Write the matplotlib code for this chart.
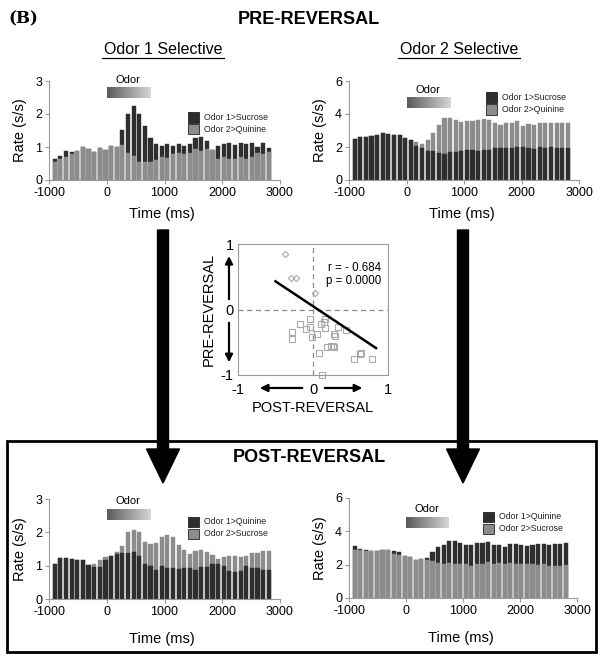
import numpy as np
import matplotlib.pyplot as plt
from matplotlib.patches import Rectangle, Polygon
from matplotlib.colors import LinearSegmentedColormap

plt.rcParams['font.family'] = ['Liberation Sans', 'DejaVu Sans']
plt.rcParams['axes.unicode_minus'] = False

# ---- data ----
# bin centres (ms), 39 bins
bins = np.arange(39) * 97.5 - 900

# PRE-REVERSAL, Odor 1 selective
pre1_odor1_sucrose = [0.63, 0.73, 0.89, 0.84, 0.89, 0.99, 0.93, 0.86, 0.96, 0.92, 1.03, 0.99, 1.51,
                      2.0, 2.25, 2.0, 1.65, 1.28, 1.1, 1.02, 1.08, 1.03, 1.1, 1.03, 1.1, 1.28, 1.3,
                      1.18, 0.92, 1.03, 1.1, 1.12, 1.05, 1.13, 1.1, 1.13, 0.99, 1.13, 0.96]
pre1_odor2_quinine = [0.55, 0.65, 0.7, 0.78, 0.89, 0.99, 0.93, 0.86, 0.96, 0.92, 1.03, 0.99, 1.05,
                      0.83, 0.73, 0.55, 0.55, 0.55, 0.6, 0.7, 0.68, 0.8, 0.83, 0.8, 0.83, 0.93, 0.89,
                      0.95, 0.9, 0.65, 0.7, 0.65, 0.65, 0.7, 0.63, 0.7, 0.83, 0.8, 0.86]

# PRE-REVERSAL, Odor 2 selective
pre2_odor1_sucrose = [2.5, 2.62, 2.62, 2.68, 2.7, 2.84, 2.78, 2.7, 2.7, 2.52, 2.42, 2.05, 1.95,
                      1.77, 1.73, 1.65, 1.55, 1.67, 1.71, 1.77, 1.81, 1.81, 1.75, 1.81, 1.81, 1.91,
                      1.95, 1.95, 1.95, 2.01, 1.97, 1.95, 1.89, 2.01, 1.91, 2.01, 1.91, 1.95, 1.91]
pre2_odor2_quinine = [2.5, 2.62, 2.62, 2.68, 2.7, 2.84, 2.78, 2.7, 2.7, 2.52, 2.42, 2.31, 2.2,
                      2.42, 2.86, 3.32, 3.74, 3.74, 3.66, 3.52, 3.56, 3.56, 3.62, 3.68, 3.62, 3.48,
                      3.36, 3.48, 3.48, 3.56, 3.28, 3.42, 3.36, 3.46, 3.48, 3.48, 3.48, 3.48, 3.48]

# POST-REVERSAL, Odor 1 selective
post1_odor1_quinine = [1.05, 1.23, 1.23, 1.19, 1.17, 1.17, 1.01, 0.96, 0.95, 1.18, 1.28, 1.35, 1.38,
                       1.38, 1.41, 1.3, 1.05, 1.0, 0.86, 0.98, 0.93, 0.93, 0.9, 0.93, 0.93, 0.86,
                       0.95, 0.95, 1.06, 1.06, 1.0, 0.83, 0.81, 0.83, 1.0, 0.93, 0.93, 0.86, 0.86]
post1_odor2_sucrose = [1.05, 1.23, 1.23, 1.19, 1.17, 1.17, 1.01, 1.05, 1.17, 1.26, 1.3, 1.41, 1.58,
                       2.0, 2.07, 2.02, 1.71, 1.65, 1.68, 1.86, 1.93, 1.86, 1.62, 1.46, 1.36, 1.45,
                       1.48, 1.4, 1.32, 1.2, 1.26, 1.3, 1.3, 1.26, 1.3, 1.38, 1.38, 1.45, 1.45]

# POST-REVERSAL, Odor 2 selective
post2_odor1_quinine = [3.1, 2.96, 2.88, 2.82, 2.82, 2.86, 2.86, 2.84, 2.74, 2.54, 2.48, 2.28, 2.34,
                       2.4, 2.74, 3.04, 3.16, 3.4, 3.4, 3.3, 3.2, 3.2, 3.3, 3.3, 3.38, 3.18, 3.18,
                       3.04, 3.24, 3.24, 3.2, 3.1, 3.18, 3.24, 3.24, 3.18, 3.24, 3.24, 3.3]
post2_odor2_sucrose = [2.86, 2.86, 2.85, 2.82, 2.82, 2.86, 2.86, 2.66, 2.6, 2.54, 2.48, 2.28, 2.34,
                       2.28, 2.24, 2.1, 2.06, 2.1, 2.06, 2.04, 2.06, 1.94, 2.04, 2.06, 2.14, 2.06,
                       2.1, 2.04, 2.1, 2.04, 2.04, 2.06, 2.04, 2.0, 2.06, 1.94, 1.94, 1.9, 2.0]

odor_on, odor_off = 0, 750

# selectivity index, post (x) vs pre (y)
diam_post = [-0.37, -0.30, -0.23, 0.02]
diam_pre = [0.84, 0.48, 0.48, 0.25]
sq_post = [-0.28, -0.28, -0.18, -0.09, -0.04, -0.04, -0.01, 0.05, 0.08, 0.11, 0.16, 0.16, 0.19,
           0.24, 0.28, 0.28, 0.29, 0.33, 0.44, 0.54, 0.64, 0.79, 0.12, 0.14, 0.63, 0.26]
sq_pre = [-0.34, -0.45, -0.22, -0.30, -0.15, -0.26, -0.42, -0.37, -0.66, -0.22, -0.29, -0.14, -0.57,
          -0.55, -0.58, -0.37, -0.41, -0.26, -0.32, -0.76, -0.67, -0.76, -1.0, -0.19, -0.68, -0.56]
fit_slope, fit_icpt = -0.76, 0.05
fit_range = [-0.5, 0.84]

# ---- figure ----
W, H = 600, 657
fig = plt.figure(figsize=(W / 100, H / 100), dpi=100)

DARK = '#2e2e2e'
LIGHT = '#8c8c8c'
AXC = '#9a9a9a'
odor_cmap = LinearSegmentedColormap.from_list('odor', ['#5a5a5a', '#d6d6d6'])


def px_axes(x0, y0, x1, y1):
    return fig.add_axes([x0 / W, 1 - y1 / H, (x1 - x0) / W, (y1 - y0) / H])


def hist_panel(ax, back, front, back_col, front_col, ymax, labels, key, bar_y, txt_y, xlab_y):
    ax.bar(bins, back, width=72, color=back_col, edgecolor=back_col, lw=0.3)
    ax.bar(bins, front, width=72, color=front_col, edgecolor=front_col, lw=0.3)
    ax.imshow(np.linspace(0, 1, 200)[None, :], cmap=odor_cmap, aspect='auto',
              extent=[odor_on, odor_off, bar_y[0], bar_y[1]], zorder=3)
    ax.text((odor_on + odor_off) / 2, txt_y, 'Odor', ha='center', va='center',
            fontsize=8, clip_on=False)
    ax.set_xlim(-1000, 3000)
    ax.set_ylim(0, ymax)
    ax.set_xticks([-1000, 0, 1000, 2000, 3000])
    ax.set_yticks(np.arange(0, ymax + 1, ymax // 3))
    for s in ['top', 'right']:
        ax.spines[s].set_visible(False)
    for s in ['left', 'bottom']:
        ax.spines[s].set_color(AXC)
        ax.spines[s].set_linewidth(0.8)
    ax.tick_params(length=3, color=AXC, labelsize=9, pad=2)
    ax.set_ylabel('Rate (s/s)', fontsize=10.5)
    ax.yaxis.set_label_coords(-0.095, 0.5)
    ax.set_xlabel('Time (ms)', fontsize=10.5)
    ax.xaxis.set_label_coords(0.49, xlab_y)
    # key
    kx, ky = key
    for i, (lab, col) in enumerate(zip(labels, [DARK, LIGHT])):
        yb = ky - i * 0.12
        ax.add_patch(Rectangle((kx, yb), 0.048, 0.105, transform=ax.transAxes,
                               facecolor=col, edgecolor='#222222', lw=0.6, clip_on=False))
        ax.text(kx + 0.068, yb + 0.052, lab, transform=ax.transAxes, fontsize=6.3,
                va='center', ha='left', color='#222222')


ax1 = px_axes(49, 81, 280, 180)
hist_panel(ax1, pre1_odor1_sucrose, pre1_odor2_quinine, DARK, LIGHT, 3,
           ['Odor 1>Sucrose', 'Odor 2>Quinine'], (0.602, 0.58), (2.48, 2.79), 3.03, -0.27)

ax2 = px_axes(349, 81, 579, 180)
hist_panel(ax2, pre2_odor2_quinine, pre2_odor1_sucrose, LIGHT, DARK, 6,
           ['Odor 1>Sucrose', 'Odor 2>Quinine'], (0.596, 0.78), (4.36, 5.0), 5.45, -0.27)

ax3 = px_axes(49, 499, 280, 599)
hist_panel(ax3, post1_odor2_sucrose, post1_odor1_quinine, LIGHT, DARK, 3,
           ['Odor 1>Quinine', 'Odor 2>Sucrose'], (0.602, 0.72), (2.37, 2.7), 2.94, -0.33)

ax4 = px_axes(349, 498, 577, 598)
hist_panel(ax4, post2_odor1_quinine, post2_odor2_sucrose, DARK, LIGHT, 6,
           ['Odor 1>Quinine', 'Odor 2>Sucrose'], (0.588, 0.76), (4.2, 4.86), 5.34, -0.33)

# scatter
axs = px_axes(238, 244, 388, 375)
axs.axhline(0, color='#888888', ls='--', lw=0.9, dashes=(4, 3))
axs.axvline(0, color='#888888', ls='--', lw=0.9, dashes=(4, 3))
axs.plot(diam_post, diam_pre, 'D', ms=3.2, mfc='none', mec='#aaaaaa', mew=0.8, clip_on=False)
axs.plot(sq_post, sq_pre, 's', ms=3.8, mfc='none', mec='#aaaaaa', mew=0.8, clip_on=False)
fx = np.array(fit_range)
axs.plot(fx, fit_slope * fx + fit_icpt, color='black', lw=1.8)
axs.set_xlim(-1, 1)
axs.set_ylim(-1, 1)
axs.set_xticks([-1, 0, 1])
axs.set_yticks([-1, 0, 1])
axs.tick_params(length=0, labelsize=10.5)
axs.tick_params(axis='x', pad=6)
axs.tick_params(axis='y', pad=3)
for s in axs.spines.values():
    s.set_color(AXC)
    s.set_linewidth(0.8)
axs.text(0.6, 0.815, 'r = - 0.684', transform=axs.transAxes, fontsize=8.3, va='center')
axs.text(0.59, 0.715, 'p = 0.0000', transform=axs.transAxes, fontsize=8.3, va='center')
axs.set_ylabel('PRE-REVERSAL', fontsize=10.5)
axs.yaxis.set_label_coords(-0.15, 0.5)
axs.set_xlabel('POST-REVERSAL', fontsize=10.5)
axs.xaxis.set_label_coords(0.5, -0.2)
arr = dict(arrowstyle='-|>', color='black', lw=1.6, mutation_scale=11)
for start, end in [((0.447, -0.099), (0.127, -0.099)), ((0.56, -0.099), (0.847, -0.099)),
                   ((-0.06, 0.557), (-0.06, 0.93)), ((-0.06, 0.42), (-0.06, 0.076))]:
    axs.annotate('', xy=end, xytext=start, xycoords='axes fraction',
                 textcoords='axes fraction', arrowprops=arr, annotation_clip=False)

# overlay for titles, box and big arrows (pixel coordinates)
ov = fig.add_axes([0, 0, 1, 1])
ov.set_xlim(0, W)
ov.set_ylim(H, 0)
ov.axis('off')
ov.patch.set_alpha(0)

ov.text(8, 19, '(B)', fontsize=12, fontweight='bold', family='DejaVu Serif', va='center')
ov.text(309, 19, 'PRE-REVERSAL', fontsize=13, fontweight='bold', ha='center', va='center')
for cx, lab in [(163, 'Odor 1 Selective'), (459, 'Odor 2 Selective')]:
    ov.text(cx, 49, lab, fontsize=11.5, ha='center', va='center')
    ov.plot([cx - 61, cx + 61], [57.5, 57.5], color='black', lw=0.9)

ov.add_patch(Rectangle((7, 441), 589, 211, fill=False, edgecolor='black', lw=2))
ov.text(309, 458, 'POST-REVERSAL', fontsize=13, fontweight='bold', ha='center', va='center')

for cx in [163, 463]:
    ov.add_patch(Polygon([(cx - 5.5, 230), (cx + 5.5, 230), (cx + 5.5, 449), (cx + 16.5, 449),
                          (cx, 483), (cx - 16.5, 449), (cx - 5.5, 449)],
                         closed=True, facecolor='black', edgecolor='black'))

fig.savefig('out.png', dpi=100)
